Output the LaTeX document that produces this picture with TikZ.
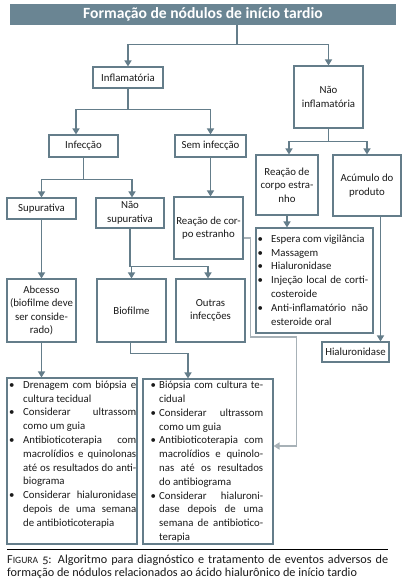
\documentclass[tikz,border=0pt]{standalone}
\usepackage{fontspec}
\setmainfont{Carlito}
\usetikzlibrary{arrows.meta,calc}
\definecolor{slate}{HTML}{647D8A}
\definecolor{slatefill}{HTML}{6A8593}
\definecolor{lightc}{HTML}{A7B1B7}
\definecolor{ink}{HTML}{1A1A1A}
\newcommand\jl[2]{\makebox[#1][s]{#2}}
\newcommand\bul[1]{\makebox[#1][l]{\textbullet}}
\newcommand\ind[1]{\hspace*{#1}}
\tikzset{
  box/.style={draw=slate, line width=1.1pt, inner sep=1pt, align=center,
    font=\fontsize{10.8}{13.5}\selectfont, text=ink},
  framebox/.style={draw=slate, line width=1.1pt, inner sep=0pt},
  conn/.style={draw=slate, line width=1.4pt},
  arr/.style={conn, -{Triangle[length=6pt,width=7pt]}},
  txt/.style={inner sep=0pt, anchor=north west, align=left,
    font=\fontsize{10.8}{13.8}\selectfont, text=ink},
}
\begin{document}
\begin{tikzpicture}[x=1pt,y=-1pt]
\useasboundingbox[fill=white] (0,0) rectangle (406,582);

% title
\node[fill=slatefill, minimum width=386pt, minimum height=21pt, inner sep=0pt,
  text=white, font=\fontsize{15.6}{18}\selectfont\bfseries] (title) at (203,14.5)
  {Formação de nódulos de início tardio};

% boxes
\node[box, minimum width=70pt, minimum height=21pt] (infl) at (128,77.5) {Inflamatória};
\node[box, minimum width=69pt, minimum height=62pt] (naoinfl) at (328.5,97) {Não\\inflamatória};
\node[box, minimum width=69pt, minimum height=22pt] (infec) at (83.5,146) {Infecção};
\node[box, minimum width=71pt, minimum height=22pt] (seminf) at (210.5,146) {Sem infecção};
\node[box, minimum width=69pt, minimum height=21pt] (sup) at (41.5,208.5) {Supurativa};
\node[box, minimum width=68pt, minimum height=30pt] (naosup) at (130,213) {Não\\supurativa};
\node[box, minimum width=69pt, minimum height=62pt] (reacL) at (208.5,228) {Reação de cor-\\po estranho};
\node[box, minimum width=62pt, minimum height=60pt] (reacR) at (287,185) {Reação de\\corpo estra-\\nho};
\node[box, minimum width=68pt, minimum height=61pt] (acum) at (367,185.5) {Acúmulo do\\produto};
\node[box, minimum width=67pt, minimum height=20pt] (hial) at (355.5,352) {Hialuronidase};
\node[box, minimum width=69pt, minimum height=63pt] (abc) at (41.5,310.5) {Abcesso\\(biofilme deve\\ser conside-\\rado)};
\node[box, minimum width=69pt, minimum height=63pt] (bio) at (131.5,310.5) {Biofilme};
\node[box, minimum width=69pt, minimum height=63pt] (outras) at (210.5,310.5) {Outras\\infecções};

% bullet boxes
\node[framebox, minimum width=117pt, minimum height=105pt] (bulR) at (314.5,280.5) {};
\node[framebox, minimum width=130pt, minimum height=166pt] (bulL) at (72,461) {};
\node[framebox, minimum width=130pt, minimum height=165pt] (bulM) at (208,461.5) {};

\node[txt] (bulRtxt) at (257.5,234.5) {%
\bul{13.5pt}Espera com vigilância\\
\bul{13.5pt}Massagem\\
\bul{13.5pt}Hialuronidase\\
\bul{13.5pt}\jl{97pt}{Injeção local de corti-}\\
\ind{13.5pt}costeroide\\
\bul{13.5pt}\jl{97pt}{Anti-inflamatório não}\\
\ind{13.5pt}esteroide oral};

\node[txt] (bulLtxt) at (9,380.5) {%
\bul{14pt}\jl{113pt}{Drenagem com biópsia e}\\
\ind{14pt}cultura tecidual\\
\bul{14pt}\jl{113pt}{Considerar ultrassom}\\
\ind{14pt}como um guia\\
\bul{14pt}\jl{113pt}{Antibioticoterapia com}\\
\ind{14pt}\jl{113pt}{macrolídios e quinolonas}\\
\ind{14pt}\jl{113pt}{até os resultados do anti-}\\
\ind{14pt}biograma\\
\bul{14pt}\jl{113pt}{Considerar hialuronidase}\\
\ind{14pt}\jl{113pt}{depois de uma semana}\\
\ind{14pt}de antibioticoterapia};

\node[txt] (bulMtxt) at (150.5,381) {%
\bul{8.5pt}\jl{104pt}{Biópsia com cultura te-}\\
\ind{8.5pt}cidual\\
\bul{8.5pt}\jl{104pt}{Considerar ultrassom}\\
\ind{8.5pt}como um guia\\
\bul{8.5pt}\jl{104pt}{Antibioticoterapia com}\\
\ind{8.5pt}\jl{104pt}{macrolídios e quinolo-}\\
\ind{8.5pt}\jl{104pt}{nas até os resultados}\\
\ind{8.5pt}do antibiograma\\
\bul{8.5pt}\jl{104pt}{Considerar hialuroni-}\\
\ind{8.5pt}\jl{104pt}{dase depois de uma}\\
\ind{8.5pt}\jl{104pt}{semana de antibiotico-}\\
\ind{8.5pt}terapia};

% connectors
\draw[conn] ($(title.south)+(34,0)$) -- ++(0,19) coordinate (j1);
\draw[arr] (j1) -| (infl.north);
\draw[arr] (j1) -| (naoinfl.north);

\draw[conn] (infl.south) -- ++(0,21) coordinate (j2);
\draw[arr] (j2) -| ($(infec.north)+(-7.5,0)$);
\draw[arr] (j2) -| (seminf.north);

\draw[conn] (infec.south) -- ++(0,22) coordinate (j3);
\draw[arr] (j3) -| (sup.north);
\draw[arr] (j3) -| ($(naosup.north)+(2,0)$);

\draw[arr] (seminf.south) -- (seminf.south |- reacL.north);

\draw[conn] (naoinfl.south) -- ++(0,13) coordinate (j4);
\draw[arr] (j4) -| ($(reacR.north)+(2,0)$);
\draw[arr] (j4) -| (acum.north);

\draw[arr] (reacR.south) -- (reacR.south |- bulR.north);
\draw[arr] ($(acum.south)+(13.5,0)$) coordinate (a1) -- (a1 |- hial.north);

\draw[arr] (sup.south) -- (sup.south |- abc.north);

\draw[conn] (naosup.south) -- ++(0,38) coordinate (j5);
\draw[arr] (j5) -| (bio.north);
\draw[arr] (j5) -| ($(outras.north)+(-2.5,0)$);

\draw[arr] (abc.south) -- (abc.south |- bulL.north);
\draw[arr] ($(bio.south)+(-1,0)$) -- ++(0,11) -| ($(bulM.north)+(-20,0)$);

\draw[arr, draw=lightc, line width=1.6pt] ($(reacL.east)+(0,10)$) -- ++(7,0) -- ++(0,99) -- ++(46,0) |- ($(bulM.east)+(0,-15.5)$);

% caption
\draw[line width=0.8pt, draw=black] (7,549) coordinate (s1) -- (388,549) coordinate (s2);
\node[txt, font=\fontsize{12.2}{13.6}\selectfont, text=ink] (cap) at (7,554.5) {%
\jl{381pt}{F{\fontsize{9.6}{10}\selectfont IGURA} {\addfontfeatures{Numbers=OldStyle}5}: Algoritmo para diagnóstico e tratamento de eventos adversos de}\\
formação de nódulos relacionados ao ácido hialurônico de início tardio};
\end{tikzpicture}
\end{document}
